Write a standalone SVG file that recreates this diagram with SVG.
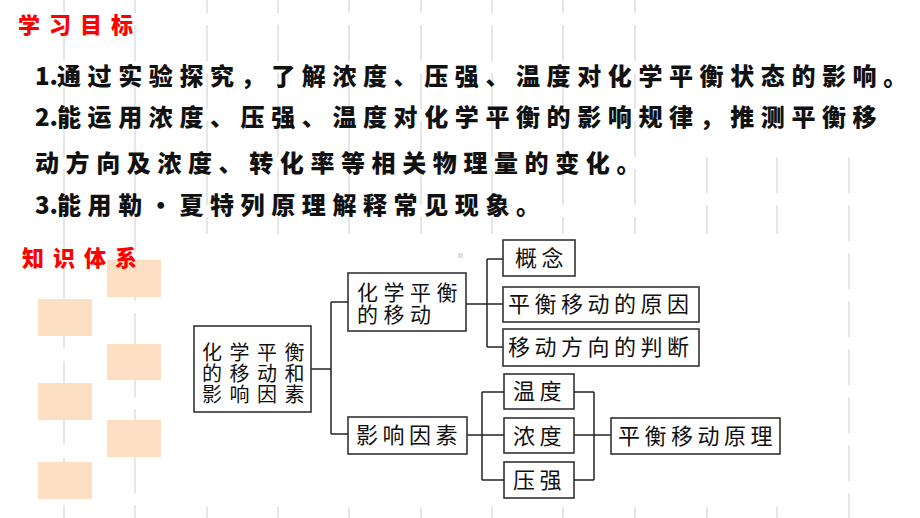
<svg xmlns="http://www.w3.org/2000/svg" width="920" height="518" viewBox="0 0 920 518">
<style>
.bg{stroke:#e6e6e6;stroke-width:2;stroke-dasharray:36 12;fill:none}
.peach{fill:#fde0c4}
.title{font-family:"Noto Sans CJK SC","Noto Sans",sans-serif;font-weight:900;font-size:22px;fill:#ff0000;letter-spacing:9px}
.obj{font-family:"Noto Sans CJK SC","Noto Sans",sans-serif;font-weight:900;font-size:24px;fill:#111;letter-spacing:6.6px}
.num{letter-spacing:0}
.box{fill:#fff;stroke:#333;stroke-width:1.6}
.lbl{font-family:"Noto Sans CJK SC","Noto Sans",sans-serif;font-size:22px;fill:#111;letter-spacing:4.5px}
.two{font-size:21px;letter-spacing:5.5px}
.root{font-size:20px;letter-spacing:7.5px}
.conn line{stroke:#222;stroke-width:1.5}
</style>
<rect width="920" height="518" fill="#fff"/>
<g id="background">
<line class="bg" x1="64" y1="-23" x2="64" y2="518"/>
<line class="bg" x1="135" y1="-23" x2="135" y2="518"/>
<line class="bg" x1="207" y1="-23" x2="207" y2="518"/>
<line class="bg" x1="278" y1="-23" x2="278" y2="518"/>
<line class="bg" x1="349" y1="-23" x2="349" y2="518"/>
<line class="bg" x1="421" y1="-23" x2="421" y2="518"/>
<line class="bg" x1="492" y1="-23" x2="492" y2="518"/>
<line class="bg" x1="563" y1="-23" x2="563" y2="518"/>
<line class="bg" x1="635" y1="-23" x2="635" y2="518"/>
<line class="bg" x1="707" y1="157" x2="707" y2="518"/>
<line class="bg" x1="777" y1="157" x2="777" y2="518"/>
<line class="bg" x1="849" y1="157" x2="849" y2="518"/>
<rect x="180" y="234" width="620" height="273" fill="#fff"/>
<rect x="458" y="253" width="5" height="5" fill="#e0e0e0"/>
<rect class="peach" x="107" y="260" width="54" height="37"/>
<rect class="peach" x="38" y="299" width="54" height="37"/>
<rect class="peach" x="107" y="344" width="54" height="36"/>
<rect class="peach" x="38" y="383" width="54" height="37"/>
<rect class="peach" x="107" y="420" width="54" height="37"/>
<rect class="peach" x="38" y="462" width="54" height="37"/>
</g>
<g id="texts">
<text class="title" x="18" y="33">学习目标</text>
<text class="title" x="22" y="266">知识体系</text>
<text class="obj" x="35" y="85"><tspan class="num">1.</tspan><tspan x="57">通过实验探究，了解浓度、压强、温度对化学平衡状态的影响。</tspan></text>
<text class="obj" x="35" y="126"><tspan class="num">2.</tspan><tspan x="57">能运用浓度、压强、温度对化学平衡的影响规律，推测平衡移</tspan></text>
<text class="obj" x="35" y="172">动方向及浓度、转化率等相关物理量的变化。</text>
<text class="obj" x="35" y="214"><tspan class="num">3.</tspan><tspan x="57">能用勒·夏特列原理解释常见现象。</tspan></text>
</g>
<g id="connectors" class="conn">
<line x1="311" y1="369" x2="331" y2="369"/>
<line x1="331" y1="302" x2="331" y2="434"/>
<line x1="331" y1="302" x2="348" y2="302"/>
<line x1="331" y1="434" x2="348" y2="434"/>
<line x1="466" y1="304" x2="487" y2="304"/>
<line x1="487" y1="259" x2="487" y2="347"/>
<line x1="487" y1="259" x2="503" y2="259"/>
<line x1="487" y1="304" x2="503" y2="304"/>
<line x1="487" y1="347" x2="503" y2="347"/>
<line x1="467" y1="435" x2="504" y2="435"/>
<line x1="482" y1="392" x2="482" y2="480"/>
<line x1="482" y1="392" x2="504" y2="392"/>
<line x1="482" y1="480" x2="504" y2="480"/>
<line x1="574" y1="392" x2="594" y2="392"/>
<line x1="574" y1="480" x2="594" y2="480"/>
<line x1="594" y1="392" x2="594" y2="480"/>
<line x1="574" y1="435" x2="611" y2="435"/>
</g>
<g id="node-root">
<rect class="box" x="194" y="326" width="117" height="86"/>
<text class="lbl root" x="202" y="360">化学平衡</text>
<text class="lbl root" x="202" y="381">的移动和</text>
<text class="lbl root" x="202" y="402">影响因素</text>
</g>
<g id="node-move">
<rect class="box" x="348" y="273" width="118" height="58"/>
<text class="lbl two" x="357" y="300">化学平衡</text>
<text class="lbl two" x="357" y="322">的移动</text>
</g>
<g id="node-concept">
<rect class="box" x="503" y="240" width="72" height="36"/>
<text class="lbl" x="515" y="266">概念</text>
</g>
<g id="node-reason">
<rect class="box" x="503" y="287" width="196" height="35"/>
<text class="lbl" x="508" y="312">平衡移动的原因</text>
</g>
<g id="node-judge">
<rect class="box" x="503" y="329" width="196" height="37"/>
<text class="lbl" x="508" y="355">移动方向的判断</text>
</g>
<g id="node-factors">
<rect class="box" x="348" y="417" width="119" height="37"/>
<text class="lbl" x="356" y="443">影响因素</text>
</g>
<g id="node-temp">
<rect class="box" x="504" y="374" width="70" height="35"/>
<text class="lbl" x="513" y="399">温度</text>
</g>
<g id="node-conc">
<rect class="box" x="504" y="418" width="70" height="35"/>
<text class="lbl" x="513" y="444">浓度</text>
</g>
<g id="node-press">
<rect class="box" x="504" y="462" width="70" height="36"/>
<text class="lbl" x="513" y="488">压强</text>
</g>
<g id="node-principle">
<rect class="box" x="611" y="418" width="169" height="36"/>
<text class="lbl" x="618" y="444">平衡移动原理</text>
</g>
</svg>
